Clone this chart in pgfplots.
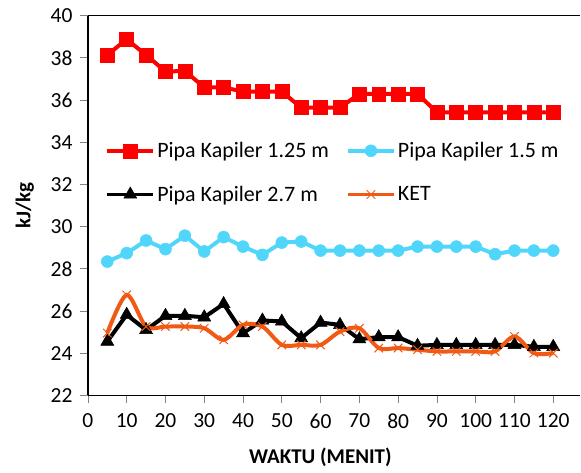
\documentclass[border=0pt]{standalone}
\usepackage{fontspec}
\setmainfont{Carlito}
\usepackage{pgfplots}
\pgfplotsset{compat=1.18}
\definecolor{kred}{RGB}{255,0,0}
\definecolor{kcyan}{RGB}{80,214,250}
\definecolor{korange}{RGB}{240,90,20}
\definecolor{tickgray}{RGB}{130,130,130}
\begin{document}
\begin{tikzpicture}
\begin{axis}[
  scale only axis, width=493pt, height=380pt,
  xmin=0, xmax=127, ymin=22, ymax=40,
  xtick={0,10,...,120}, ytick={22,24,...,40},
  axis x line=box, axis y line=left,
  axis line style={-, line width=1.2pt, black},
  xtick pos=bottom, ytick pos=left,
  tick align=outside, major tick length=8pt,
  tick style={tickgray, line width=0.8pt},
  /pgf/number format/assume math mode=true,
  ticklabel style={font=\fontsize{21.5}{24}\selectfont},
  xticklabel style={yshift=-7pt},
  yticklabel style={xshift=-4pt},
  xlabel={\textbf{WAKTU (MENIT)}},
  ylabel={\textbf{kJ/kg}},
  label style={font=\fontsize{21}{24}\selectfont},
  xlabel style={at={(axis description cs:0.472,-0.164)}, anchor=center},
  ylabel style={at={(axis description cs:-0.128,0.5)}, anchor=center},
  legend columns=2,
  legend cell align=left,
  legend style={draw=none, fill=none, inner sep=0pt,
    at={(axis description cs:0.035,0.672)}, anchor=north west,
    font=\fontsize{22}{26}\selectfont, row sep=23pt,
    /tikz/every even column/.append style={column sep=15pt}},
  legend image code/.code={\draw[mark repeat=2,mark phase=2] plot coordinates {(0pt,0pt) (23pt,0pt) (46pt,0pt)};},
]
\addplot[kred, line width=4pt, mark=square*, mark size=7pt, mark options={line width=0.5pt}] coordinates {
(5,38.14) (10,38.88) (15,38.14) (20,37.35) (25,37.38) (30,36.6) (35,36.6) (40,36.4) (45,36.4) (50,36.4)
(55,35.64) (60,35.64) (65,35.64) (70,36.29) (75,36.29) (80,36.29) (85,36.29) (90,35.42) (95,35.42) (100,35.42)
(105,35.42) (110,35.42) (115,35.42) (120,35.42)};
\addlegendentry{Pipa Kapiler 1.25 m}
\addplot[kcyan, line width=4pt, mark=*, mark size=6pt, mark options={line width=0.5pt}] coordinates {
(5,28.34) (10,28.74) (15,29.34) (20,28.93) (25,29.57) (30,28.82) (35,29.5) (40,29.05) (45,28.66) (50,29.24)
(55,29.29) (60,28.86) (65,28.86) (70,28.86) (75,28.86) (80,28.86) (85,29.05) (90,29.05) (95,29.05) (100,29.05)
(105,28.69) (110,28.86) (115,28.86) (120,28.86)};
\addlegendentry{Pipa Kapiler 1.5 m}
\addplot[black, line width=4pt, mark=triangle*, mark size=7.5pt, mark options={line width=0.5pt}] coordinates {
(5,24.55) (10,25.82) (15,25.1) (20,25.77) (25,25.77) (30,25.7) (35,26.33) (40,24.95) (45,25.55) (50,25.5)
(55,24.71) (60,25.45) (65,25.34) (70,24.66) (75,24.76) (80,24.76) (85,24.35) (90,24.39) (95,24.39) (100,24.39)
(105,24.39) (110,24.39) (115,24.3) (120,24.3)};
\addlegendentry{Pipa Kapiler 2.7 m}
\addplot[korange, line width=4pt, smooth, mark=x, mark size=6pt, mark options={line width=1pt}] coordinates {
(5,24.95) (10,26.76) (15,25.26) (20,25.26) (25,25.26) (30,25.18) (35,24.63) (40,25.34) (45,25.26) (50,24.39)
(55,24.39) (60,24.39) (65,25.02) (70,25.18) (75,24.24) (80,24.24) (85,24.16) (90,24.08) (95,24.08) (100,24.08)
(105,24.08) (110,24.79) (115,24.0) (120,24.0)};
\addlegendentry{KET}
\end{axis}
\useasboundingbox (-88pt,-77.3pt) rectangle (493pt,395.7pt);
\end{tikzpicture}
\end{document}
